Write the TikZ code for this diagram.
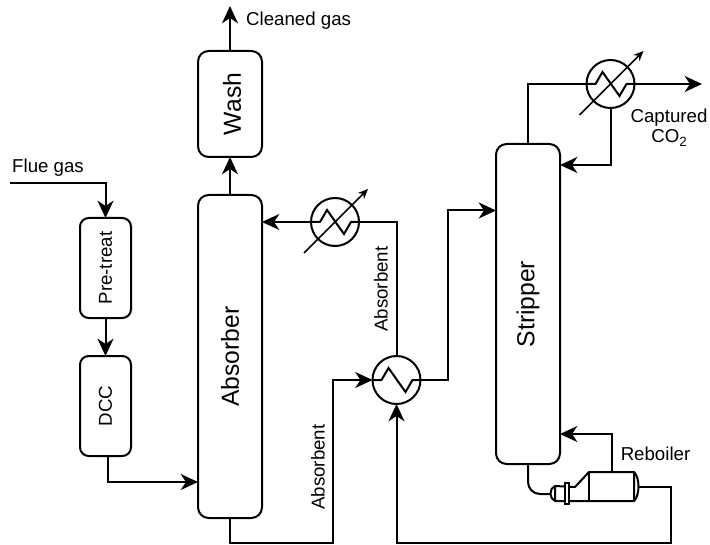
\documentclass[tikz,border=0pt]{standalone}
\usepackage{fontspec}
\setmainfont{Liberation Sans}
\usepackage{tikz}
\usetikzlibrary{positioning,arrows.meta}

\newcommand{\zigzag}[1]{\draw[pipe] (#1.west) -- ++(9,0) -- ++(7,-12) -- ++(17,24) -- ++(7,-12) -- (#1.east);}
\newcommand{\trimarrow}[1]{\draw[line width=1.2pt,-{Stealth[length=7.5pt,width=6.5pt]}] ([shift={(-31,31)}]#1.center) -- ([shift={(33,-33)}]#1.center);}

\begin{document}
\begin{tikzpicture}[
    x=0.75pt, y=-0.75pt,
    node distance=28.5pt,
    pipe/.style={line width=1.5pt},
    flow/.style={line width=1.5pt, -{Stealth[length=13pt,width=12pt,inset=4pt]}},
    vessel/.style={draw, line width=1.5pt, rounded corners=8pt, outer sep=0pt, minimum width=48pt},
    unit/.style={draw, line width=1.5pt, rounded corners=6.5pt, outer sep=0pt, minimum width=38.25pt, minimum height=75pt},
    exch/.style={draw, circle, line width=1.5pt, outer sep=0pt, inner sep=0pt, minimum size=36pt},
    bigtxt/.style={rotate=90, font=\fontsize{18.5}{20}\selectfont},
    smalltxt/.style={rotate=90, font=\fontsize{14}{16}\selectfont},
    tag/.style={font=\fontsize{14}{15}\selectfont, align=center}
]
\useasboundingbox (0,0) rectangle (710,545);

% Columns
\node[vessel, minimum height=242.25pt, label={[bigtxt]center:Absorber}] (absorber) at (230,356.5) {};
\node[vessel, minimum height=79.5pt, above=of absorber, label={[bigtxt,yshift=-1.5pt]center:Wash}] (wash) {};
\node[vessel, minimum height=240pt, label={[bigtxt]center:Stripper}] (stripper) at (528,304) {};

% Pre-treatment
\node[unit, label={[smalltxt]center:Pre-treat}] (pretreat) at (105.5,268) {};
\node[unit, below=of pretreat, label={[smalltxt]center:DCC}] (dcc) {};

% Heat exchangers
\node[exch] (cooler) at (335,222) {};
\node[exch] (crossx) at (396.5,380) {};
\node[exch] (condenser) at (610.5,84) {};
\zigzag{cooler}
\zigzag{crossx}
\zigzag{condenser}
\trimarrow{cooler}
\trimarrow{condenser}

% Reboiler
\coordinate (rebin) at (550,494);
\coordinate (rebtop) at (612,472);
\coordinate (rebout) at (638,487);
\draw[pipe, line join=round] (555,486) -- (575,487) -- (589,472) -- (634,472) -- (634,501) -- (555,501) -- cycle;
\draw[pipe] (555,486) .. controls (549,488) and (549,499) .. (555,501);
\draw[pipe] (634,472) .. controls (640,478) and (640,495) .. (634,501);
\draw[pipe] (589,472) -- (589,501);
\draw[pipe, fill=white] (565,483) rectangle (569,504);

% Labels
\node[tag, anchor=west] (fluelabel) at (7.5,168) {Flue gas};
\node[tag, anchor=west] (cleanlabel) at (241.5,21) {Cleaned gas};
\node[tag] (co2label) at (669,128) {Captured\\CO\raisebox{-3pt}{\fontsize{10}{12}\selectfont 2}};
\node[tag] (reblabel) at (655.5,453.5) {Reboiler};
\node[smalltxt] (abslabela) at (318,467) {Absorbent};
\node[smalltxt] (abslabelb) at (381,289) {Absorbent};

% Free ends
\coordinate (fluein) at (10,183.5);
\coordinate (cleanout) at (230,6);
\coordinate (co2out) at (702,84);

% Streams
\draw[flow] (fluein) -| (pretreat.north);
\draw[flow] (pretreat) -- (dcc);
\draw[flow] ([xshift=1.5pt]dcc.south) |- (absorber.west |- 0,482);
\draw[flow] (absorber) -- (wash);
\draw[flow] (wash) -- (cleanout);
\draw[flow] (absorber.south) -- ++(0,25) -| (333,380) -- (crossx.west);
\draw[pipe] (crossx.north) |- (cooler.east);
\draw[flow] (cooler.west) -- (cooler.west -| absorber.east);
\draw[flow] (crossx.east) -- ++(27,0) |- (stripper.west |- 0,210.5);
\draw[pipe] (stripper.north) |- (condenser.west);
\draw[flow] (condenser.east) -- (co2out);
\draw[flow] (condenser.south) |- (stripper.east |- 0,165);
\draw[pipe, rounded corners=9pt] (stripper.south) |- (rebin);
\draw[flow] (rebtop) |- (stripper.east |- 0,434);
\draw[flow] (rebout) -| (671,543) -| (crossx.south);

\end{tikzpicture}
\end{document}
